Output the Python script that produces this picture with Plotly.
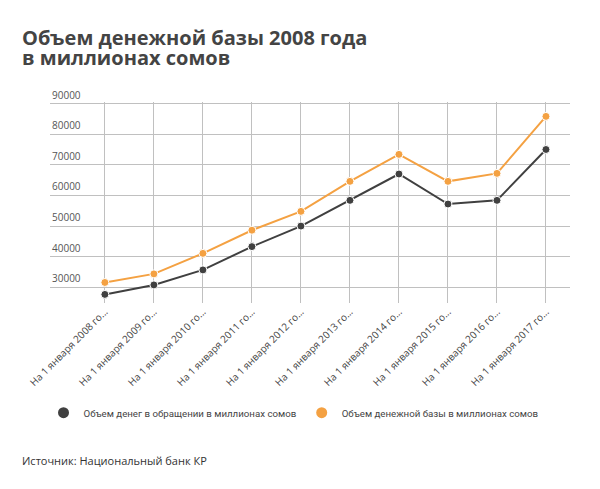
import plotly.graph_objects as go

# data
years = ["2008", "2009", "2010", "2011", "2012", "2013", "2014", "2015", "2016", "2017"]
tick_labels = ["На 1 января " + y + " го..." for y in years]
money_in_circulation = [27700, 30800, 35700, 43300, 50000, 58400, 67000, 57200, 58400, 75000]
monetary_base = [31600, 34400, 41100, 48650, 54800, 64600, 73400, 64600, 67200, 85800]
y_ticks = [30000, 40000, 50000, 60000, 70000, 80000, 90000]

name_money = "Объем денег в обращении в миллионах сомов"
name_base = "Объем денежной базы в миллионах сомов"
dark = "#404040"
orange = "#f4a142"

fig = go.Figure()
for vals, col, name in [(money_in_circulation, dark, name_money), (monetary_base, orange, name_base)]:
    fig.add_trace(go.Scatter(
        x=tick_labels, y=vals, mode="lines+markers", name=name, showlegend=False,
        line=dict(color=col, width=2),
        marker=dict(color=col, size=8, line=dict(color="white", width=1)),
    ))
    # legend-only marker so the legend shows a plain circle
    fig.add_trace(go.Scatter(
        x=[tick_labels[0]], y=[None], mode="markers", name=name,
        marker=dict(color=col, size=11),
    ))

PH = 201.5  # plot height in px

# the page body adds an 8px offset, so the figure is a bit smaller than the window
fig.update_layout(
    width=592, height=481,
    paper_bgcolor="white", plot_bgcolor="white",
    margin=dict(l=42, r=30, t=93.5, b=186, autoexpand=False),
    font=dict(family="Open Sans", color="#444"),
    legend=dict(orientation="h", xref="container", x=0.06, xanchor="left",
                y=-110 / PH, yanchor="middle", font=dict(family="Roboto", size=9.7, color="#444"),
                itemwidth=30, tracegroupgap=0),
    hovermode=False,
)
fig.update_xaxes(
    type="category", range=[-1.12, 9.49], showgrid=True, gridcolor="#c0c0c0", gridwidth=1,
    tickangle=-45, tickfont=dict(size=10, color="#444"), zeroline=False,
    showline=False, ticks="", automargin=False,
)
fig.update_yaxes(
    range=[24900, 90500], tickvals=y_ticks, showticklabels=False, showgrid=True,
    gridcolor="#c0c0c0", gridwidth=1, zeroline=False, showline=False, ticks="",
    automargin=False,
)

# y labels sit above their gridlines, at the left edge of the plot
for v in y_ticks:
    fig.add_annotation(text=str(v), xref="paper", yref="y", x=0, xanchor="left",
                       y=v, yanchor="bottom", showarrow=False,
                       font=dict(size=10, color="#555"))

fig.add_annotation(text="<b>Объем денежной базы 2008 года</b>", xref="paper", yref="paper",
                   x=-30 / 520, xanchor="left", y=1 + 64.5 / PH, yanchor="middle",
                   showarrow=False, font=dict(size=20, color="#444"))
fig.add_annotation(text="<b>в миллионах сомов</b>", xref="paper", yref="paper",
                   x=-30 / 520, xanchor="left", y=1 + 44.5 / PH, yanchor="middle",
                   showarrow=False, font=dict(size=20, color="#444"))
fig.add_annotation(text="Источник: Национальный банк КР", xref="paper", yref="paper",
                   x=-30 / 520, xanchor="left", y=-158 / PH, yanchor="middle",
                   showarrow=False, font=dict(size=11, color="#333"))

fig.write_html("out.html")
